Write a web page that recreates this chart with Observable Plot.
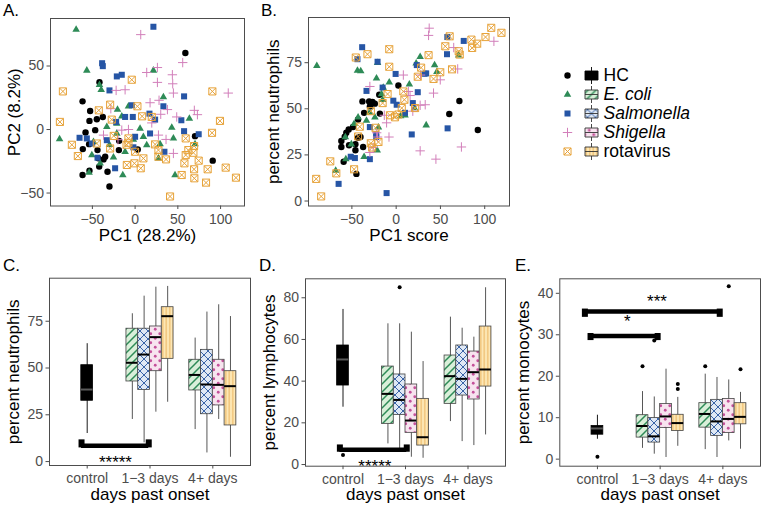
<!DOCTYPE html>
<html><head><meta charset="utf-8">
<script src="https://cdn.jsdelivr.net/npm/d3@7"></script>
<script src="https://cdn.jsdelivr.net/npm/@observablehq/plot@0.6"></script>
<style>
body{margin:0;background:#fff;}
#root{position:relative;width:765px;height:511px;background:#fff;overflow:hidden;font-family:"Liberation Sans",Arial,sans-serif;}
.tag{position:absolute;font-size:17px;line-height:17px;color:#000;z-index:2;}
</style></head><body>
<div id="root">
<svg width="0" height="0" style="position:absolute;left:0;top:0">
<defs>
 <pattern id="pEcoli" patternUnits="userSpaceOnUse" width="8" height="8">
   <rect width="8" height="8" fill="#d9efd9"/>
   <path d="M-2,2L2,-2M0,8L8,0M6,10L10,6" stroke="#2e8b57" stroke-width="1.5"/>
 </pattern>
 <pattern id="pSalm" patternUnits="userSpaceOnUse" width="8" height="8">
   <rect width="8" height="8" fill="#dfe8f4"/>
   <path d="M-2,2L2,-2M0,8L8,0M6,10L10,6M-2,6L2,10M0,0L8,8M6,-2L10,2" stroke="#3a64a8" stroke-width="1"/>
 </pattern>
 <pattern id="pShig" patternUnits="userSpaceOnUse" width="9" height="9">
   <rect width="9" height="9" fill="#f7e4ef"/>
   <circle cx="2.25" cy="2.25" r="1.4" fill="#c4509a"/><circle cx="6.75" cy="6.75" r="1.4" fill="#c4509a"/>
 </pattern>
 <pattern id="pRota" patternUnits="userSpaceOnUse" width="3.5" height="8">
   <rect width="3.5" height="8" fill="#fde7b5"/>
   <path d="M1.75,0V8" stroke="#e3a23e" stroke-width="0.8"/>
 </pattern>
</defs></svg>
<div class="tag" style="left:3px;top:2px">A.</div>
<div class="tag" style="left:261px;top:2px">B.</div>
<div class="tag" style="left:3px;top:257px">C.</div>
<div class="tag" style="left:259px;top:257px">D.</div>
<div class="tag" style="left:515px;top:257px">E.</div>
</div>
<script>
// ---------------- data ----------------
const groups = ["HC", "E. coli", "Salmonella", "Shigella", "rotavirus"];
const days = ["control", "1−3 days", "4+ days"];

// Panel A: [PC1, PC2]
const hcA = [[58.8,60.3],[-41.7,37.3],[-61.5,22.2],[-52.6,14.6],[-53.4,6.8],[-44.8,8.1],[-37.8,9.9],[-58,-2.3],[-46.7,-0.5],[-61.2,-15.4],[-53.8,-11.5],[-44,-16.2],[-35,-21.4],[-37,-23.5],[-18.7,-8.9],[-19,-16.2],[3.1,-15.7],[-42,-29.2],[-53.4,-32.4],[-61.5,-35.8],[-32.3,-33.2],[-30,-44.9],[70.1,-5.2],[90.8,-24.5],[-42.9,-22.7]];
const ecoliA = [[-69,78.6],[-56.5,46.5],[-41.7,35.2],[-39.7,31.3],[21.4,46.5],[33.1,25.6],[-20.6,15.7],[-7.8,18.3],[-15.6,10.4],[-33.1,2.1],[-21.4,4.7],[-21.4,-3.1],[5.8,0.8],[9.7,-5.7],[13.6,-12.3],[42.9,1.6],[44.8,-7],[63.5,8.6],[70.1,-11.5],[-88.4,-7.6],[-50.6,-20.1],[-40.9,-26.6],[-53.8,-33.9],[-25.3,-21.9],[-14.4,-35.8],[27.3,-22.7],[46.7,-35.8],[29.2,-11.5],[-11.7,-17.5],[-48.7,-9.7],[-30,-12],[-2,-8]];
const salmA = [[21.4,80.9],[-38.6,52.2],[-37.8,49.9],[-21.4,41.8],[-15.6,43.1],[-30,30.8],[-3.9,19.1],[-11.7,9.9],[-2.7,9.9],[16.8,12.5],[23.4,7.8],[33.1,18.3],[57.3,26.1],[54.1,7.3],[57.3,-1.3],[74.4,-3.7],[17.5,-3.1],[0,-5.7],[-22.2,6],[-65,-6.5],[-56.5,-7],[-50.6,-11],[-44,-22.2],[-23.4,-30.5],[34.3,-17.5],[-33.1,-8.4],[-2,-14]];
const shigA = [[6.6,74.7],[55.7,52.7],[26.1,48.8],[13.6,44.9],[43.6,43.1],[44,36],[26.1,37.1],[17.5,21.1],[28,23],[37.8,15.7],[44.8,28.7],[69.3,15.1],[72.9,11.7],[-22.2,30.8],[-11.7,31.3],[-28.4,16.4],[-15.6,-0.5],[-7.8,0],[-37,-4.4],[19.5,5.2],[27.3,-4.4],[48.7,9.9],[36.2,-7.8],[44.8,-18.8],[109,28.7],[-20,-8],[30,12]];
const rotaA = [[-84.5,30],[-88,6],[-74,-12],[-67,-20.9],[-42.5,15.1],[-29.2,19.6],[-3.9,39.2],[2.7,18.3],[8.2,10.4],[19.5,9.9],[-27.3,7.8],[-7.8,-7],[-7.8,-10.4],[-29.2,-14.9],[-44.8,-11],[0,-17.5],[-0.8,-26.6],[-9.7,-27.9],[9.7,-22.7],[6.6,-30.5],[27.3,-16.2],[27.3,-21.4],[36.2,-23.5],[23.4,-11.7],[40.9,-52.7],[59.2,-7],[69,-13],[62.3,-16.2],[68.2,-18.3],[59.2,-20.1],[57.7,-26.6],[74.4,-24.5],[69,-31.3],[69.3,-38.4],[83,-41.8],[84.9,-31.3],[90.4,30],[99.3,6.8],[90,-2.6],[106,-30],[118,-37.9],[54.5,-35.8],[-25,-5],[-10,-12]];

// Panel B: [PC1 score, percent neutrophils]
const hcB = [[2.5,62.6],[-19.1,57.6],[-38.1,54],[-30.5,54],[-26.7,53.7],[-24.1,52.8],[-29.7,51.3],[-36.2,47.8],[-18.4,47.4],[-43,44.2],[-48.7,40.1],[-53.6,38.8],[-56.3,37],[-58.1,34.9],[-61.9,32.6],[-61.9,29.3],[-53.2,30.2],[-46,30.8],[-43,34.3],[-40.3,34.7],[-37.3,29.3],[-46,27.5],[-59.3,21.3],[-44.9,14.7],[60,47.2],[71.4,54.2],[92.2,38.5]];
const ecoliB = [[-89.6,73.3],[-43.7,70.7],[-40,70.5],[-21,74.9],[-22.2,66.5],[-14.6,61.5],[-7.8,64.4],[-16.5,58],[-15.3,54.9],[-43,45.4],[-33.5,43.6],[-24,45.4],[-47.5,41.9],[-57.4,34.7],[-50.6,30.8],[-36.2,24],[-56.8,22.7],[-68.3,16.5],[-21.4,27.5],[14.9,63.3],[27.1,78.2],[22.6,74.6],[43.4,73.7],[46,70.1],[70.6,79],[10,46.5],[20.6,50.4],[33.9,41.1],[-30,48],[5,46],[-20,40]];
const salmB = [[-38.4,83.4],[-43.7,76.9],[-21,75.5],[-0.6,68.9],[23.3,73.7],[33.9,69.2],[-33.5,59.7],[-15.3,61.5],[-3.2,54.4],[0.6,52.2],[24.4,59],[18.8,53.1],[10,47.8],[-29.7,40.1],[-22.5,36.1],[-22.5,34.7],[-51.3,24],[-46.6,23.3],[-29.7,22.7],[-65,9.3],[-10.8,4.3],[58.1,39.4],[17.6,36.1],[76.3,86.8],[57.8,88.9],[57.4,79.6],[32,69]];
const shigB = [[37.3,93.7],[36.6,89.8],[110.4,86.6],[65,83.2],[69.5,71.6],[49.8,65.7],[42.2,58.5],[27.5,68.3],[8.1,68.3],[13.8,59.4],[15.7,57.2],[27.1,51.9],[32.8,52.2],[18.8,48.7],[-29.7,62.1],[-13.4,46.5],[-10.8,42.4],[-21,34.7],[-8.1,34.7],[-26,29],[-29.7,26.3],[27.1,27.2],[44.9,22.7],[73.7,29.3],[-22,37]];
const rotaB = [[-90.3,12],[-84.7,2.5],[-74.4,21.5],[-67.6,15],[-47.5,17.2],[-45.6,77.8],[-32.4,79.6],[-7.8,82.3],[-7.8,72.8],[-9.7,58],[-15.3,53.1],[-28.6,48.7],[-41.1,40.3],[-23.3,39.7],[-28.6,31.3],[-27.1,29],[-7,46.5],[-1.3,45.4],[2.5,46.9],[6.3,50.4],[9.3,54.9],[8.1,59.4],[21.4,50.4],[28.2,72.3],[36.6,79.1],[24.4,67.4],[42.2,66.2],[49.8,69.8],[63.1,71.4],[55.5,83.9],[60.4,89.3],[70.6,81.2],[71.8,79.4],[85,87.5],[91.5,85.3],[85.8,83],[100.9,88.9],[107.4,93.9],[118.9,91.2],[-43,35],[-20,32]];

// Box summaries: [group, day, lower whisker, q1, median, q3, upper whisker]
const neutStats = [
 ["HC","control",15,32.5,38.5,51.5,63],
 ["E. coli","1−3 days",22.5,42.8,52.8,71,79],
 ["Salmonella","1−3 days",10,38.3,57.2,71,88.4],
 ["Shigella","1−3 days",26.4,48.3,66.5,72.2,93.2],
 ["rotavirus","1−3 days",31.7,54.9,77.7,82.5,93.6],
 ["E. coli","4+ days",17.1,38,46.3,54.4,66],
 ["Salmonella","4+ days",4.6,25.3,41.2,59.7,79.9],
 ["Shigella","4+ days",22.5,30,41,54.4,83.8],
 ["rotavirus","4+ days",2.3,19.3,40.3,48.3,77.5]
];
const neutOut = [];
const lympStats = [
 ["HC","control",27.5,37.9,50.4,57.1,74.4],
 ["E. coli","1−3 days",9.9,19.5,33.9,47,67.5],
 ["Salmonella","1−3 days",7,23.8,31,43.2,67.5],
 ["Shigella","1−3 days",3.5,15.2,21.1,38.4,63.5],
 ["rotavirus","1−3 days",3,9.1,13.1,31.5,49.4],
 ["E. coli","4+ days",20.6,29.1,42.4,52.3,70.7],
 ["Salmonella","4+ days",11,33.1,41.1,57.1,65.4],
 ["Shigella","4+ days",9.1,31.2,44.3,54.2,61.1],
 ["rotavirus","4+ days",14.2,37.4,45.6,66.2,84.8]
];
const lympOut = [["HC","control",4.6],["Salmonella","1−3 days",85.1]];
const monoStats = [
 ["HC","control",4.8,5.9,7.4,8,10.6],
 ["E. coli","1−3 days",2.6,5.2,8,10.6,16.3],
 ["Salmonella","1−3 days",1.2,4,5.5,9.9,15],
 ["Shigella","1−3 days",0.4,7.5,10.3,13.3,21.7],
 ["rotavirus","1−3 days",3.1,6.8,8.7,10.7,14.9],
 ["E. coli","4+ days",2.3,7.6,10.9,13.5,20.5],
 ["Salmonella","4+ days",0.4,5.6,9.1,14.3,19.7],
 ["Shigella","4+ days",4.4,6.3,9.7,14.5,19.1],
 ["rotavirus","4+ days",2.4,8.4,10.2,13.5,16.1]
];
const monoOut = [["HC","control",0.6],["E. coli","1−3 days",22.4],["Salmonella","1−3 days",28.6],["rotavirus","1−3 days",18.1],["rotavirus","1−3 days",16.9],["E. coli","4+ days",22.4],["Shigella","4+ days",41.7],["rotavirus","4+ days",21.7]];

// significance brackets
const sigC = [{x1:0.91, x2:1.98, y:8.4, cap:[7.3,11.6], label:"*****", lx:1.45, ly:-3.7}];
const sigD = [{x1:0.95, x2:2.02, y:7.1, cap:[5.9,9.4], label:"*****", lx:1.51, ly:-3.8}];
const sigE = [
 {x1:0.8, x2:2.95, y:35.6, cap:[34.2,36.2], label:"***", lx:1.95, ly:36.7},
 {x1:0.89, x2:1.96, y:29.7, cap:[28.6,30.3], label:"*", lx:1.475, ly:31.8}
];

// ---------------- styles ----------------
const root = document.getElementById("root");
const FONT = "Liberation Sans, Arial, Helvetica, sans-serif";
const baseStyle = {fontFamily: FONT, fontSize: "14px", color: "#4d4d4d", background: "transparent", overflow: "visible"};

const plusSym = {draw(ctx, size) { const r = Math.sqrt(size / Math.PI); ctx.moveTo(-r, 0); ctx.lineTo(r, 0); ctx.moveTo(0, -r); ctx.lineTo(0, r); }};
const sqCross = {draw(ctx, size) { const s = Math.sqrt(size) / 2; ctx.moveTo(-s,-s); ctx.lineTo(s,-s); ctx.lineTo(s,s); ctx.lineTo(-s,s); ctx.closePath(); ctx.moveTo(-s,-s); ctx.lineTo(s,s); ctx.moveTo(s,-s); ctx.lineTo(-s,s); }};
const boxKey = {draw(ctx) { ctx.moveTo(0,-8.5); ctx.lineTo(0,-4.5); ctx.moveTo(-6.5,-4.5); ctx.lineTo(6.5,-4.5); ctx.lineTo(6.5,4.5); ctx.lineTo(-6.5,4.5); ctx.closePath(); ctx.moveTo(-6.5,0); ctx.lineTo(6.5,0); ctx.moveTo(0,4.5); ctx.lineTo(0,8.5); }};

const pointStyle = {
  "HC": {symbol: "circle", r: 3.2, fill: "#000", stroke: "none"},
  "E. coli": {symbol: "triangle", r: 2.8, fill: "#2e8b57", stroke: "none"},
  "Salmonella": {symbol: "square", r: 3.4, fill: "#2655a5", stroke: "none"},
  "Shigella": {symbol: plusSym, r: 4.7, fill: "none", stroke: "#d27fba", strokeWidth: 1},
  "rotavirus": {symbol: sqCross, r: 4, fill: "none", stroke: "#e7a33a", strokeWidth: 1}
};
const boxStyle = {
  "HC": {fill: "#000", line: "#000", median: "#5a5a5a"},
  "E. coli": {fill: "url(#pEcoli)", line: "#444", median: "#000"},
  "Salmonella": {fill: "url(#pSalm)", line: "#444", median: "#000"},
  "Shigella": {fill: "url(#pShig)", line: "#444", median: "#000"},
  "rotavirus": {fill: "url(#pRota)", line: "#444", median: "#000"}
};

function place(el, left, top) {
  el.style.position = "absolute"; el.style.left = left + "px"; el.style.top = top + "px";
  root.appendChild(el);
}

function axisMarks({xTicks, xFormat, yTicks, xTitle, yTitle, titleDy, titleDx}) {
  return [
    Plot.frame({stroke: "#4d4d4d", strokeWidth: 1}),
    Plot.axisX({ticks: xTicks, tickFormat: xFormat, tickSize: 3.5, tickPadding: 4.5, fontSize: 14}),
    Plot.axisY({ticks: yTicks, tickFormat: d3.format("d"), tickSize: 3.5, tickPadding: 3, fontSize: 14}),
    Plot.text([xTitle], {frameAnchor: "bottom", dy: titleDy, lineAnchor: "bottom", textAnchor: "middle", fontSize: 17, fill: "#000"}),
    Plot.text([yTitle], {frameAnchor: "left", dx: titleDx, rotate: -90, textAnchor: "middle", lineAnchor: "middle", fontSize: 17, fill: "#000"})
  ];
}

function scatter(sets, opts) {
  const marks = [];
  sets.forEach(([g, data]) => {
    marks.push(Plot.dot(data, {x: d => d[0], y: d => d[1], ...pointStyle[g]}));
  });
  return Plot.plot({
    width: opts.width, height: opts.height,
    marginLeft: opts.ml, marginRight: opts.mr, marginTop: opts.mt, marginBottom: opts.mb,
    x: {domain: opts.xDomain}, y: {domain: opts.yDomain},
    style: baseStyle,
    marks: [
      ...marks,
      ...axisMarks({xTicks: opts.xTicks, xFormat: d3.format("d"), yTicks: opts.yTicks, xTitle: opts.xTitle, yTitle: opts.yTitle, titleDy: opts.titleDy, titleDx: opts.titleDx})
    ]
  });
}

const DODGE = 0.1875, HW = 0.09375;
const pos = d => days.indexOf(d[1]) + 1 + (d[0] === "HC" ? 0 : (groups.indexOf(d[0]) - 2.5) * DODGE);

function boxplot(stats, outs, sigs, opts) {
  const marks = [];
  groups.forEach(g => {
    const rows = stats.filter(d => d[0] === g);
    if (!rows.length) return;
    const s = boxStyle[g];
    marks.push(Plot.ruleX(rows, {x: pos, y1: d => d[2], y2: d => d[6], stroke: s.line, strokeWidth: 0.9}));
    marks.push(Plot.rect(rows, {x1: d => pos(d) - HW, x2: d => pos(d) + HW, y1: d => d[3], y2: d => d[5], fill: s.fill, stroke: s.line, strokeWidth: 0.8}));
    marks.push(Plot.ruleY(rows, {x1: d => pos(d) - HW, x2: d => pos(d) + HW, y: d => d[4], stroke: s.median, strokeWidth: 2}));
  });
  marks.push(Plot.dot(outs, {x: pos, y: d => d[2], r: 2, fill: "#000", stroke: "none"}));
  marks.push(Plot.ruleY(sigs, {y: d => d.y, x1: d => d.x1, x2: d => d.x2, stroke: "#000", strokeWidth: 4.5}));
  marks.push(Plot.ruleX(sigs, {x: d => d.x1, y1: d => d.cap[0], y2: d => d.cap[1], stroke: "#000", strokeWidth: 6}));
  marks.push(Plot.ruleX(sigs, {x: d => d.x2, y1: d => d.cap[0], y2: d => d.cap[1], stroke: "#000", strokeWidth: 6}));
  marks.push(Plot.text(sigs, {x: d => d.lx, y: d => d.ly, text: d => d.label, lineAnchor: "bottom", fontSize: 17, fill: "#000"}));
  return Plot.plot({
    width: 255, height: 256,
    marginLeft: opts.ml, marginRight: opts.mr, marginTop: opts.mt, marginBottom: opts.mb,
    x: {domain: [0.4, 3.6]}, y: {domain: opts.yDomain},
    style: baseStyle,
    marks: [
      ...marks,
      ...axisMarks({xTicks: [1, 2, 3], xFormat: i => days[i - 1], yTicks: opts.yTicks, xTitle: "days past onset", yTitle: opts.yTitle, titleDy: 34, titleDx: -36})
    ]
  });
}

// ---------------- panels ----------------
place(scatter([["HC", hcA], ["E. coli", ecoliA], ["Salmonella", salmA], ["Shigella", shigA], ["rotavirus", rotaA]], {
  width: 255, height: 250, ml: 50, mr: 11, mt: 18, mb: 44.5,
  xDomain: [-99, 128], yDomain: [-60.2, 87.4], xTicks: [-50, 0, 50, 100], yTicks: [-50, 0, 50],
  xTitle: "PC1 (28.2%)", yTitle: "PC2 (8.2%)", titleDy: 35, titleDx: -36
}), 0, 0);

place(scatter([["HC", hcB], ["E. coli", ecoliB], ["Salmonella", salmB], ["Shigella", shigB], ["rotavirus", rotaB]], {
  width: 260, height: 250, ml: 53, mr: 6, mt: 17, mb: 44.5,
  xDomain: [-99, 128], yDomain: [-2.7, 99.5], xTicks: [-50, 0, 50, 100], yTicks: [0, 25, 50, 75],
  xTitle: "PC1 score", yTitle: "percent neutrophils", titleDy: 35, titleDx: -35
}), 255, 0);

place(boxplot(neutStats, neutOut, sigC, {ml: 49, mr: 5, mt: 22.7, mb: 46, yDomain: [-2.1, 98], yTicks: [0, 25, 50, 75], yTitle: "percent neutrophils"}), 0, 255);
place(boxplot(lympStats, lympOut, sigD, {ml: 50, mr: 5, mt: 23.3, mb: 45.3, yDomain: [-0.8, 89.1], yTicks: [0, 20, 40, 60, 80], yTitle: "percent lymphocytes"}), 255, 255);
place(boxplot(monoStats, monoOut, sigE, {ml: 49.3, mr: 5, mt: 23.3, mb: 45.3, yDomain: [-1.7, 43.5], yTicks: [0, 10, 20, 30, 40], yTitle: "percent monocytes"}), 510, 255);

// ---------------- legend ----------------
const legend = Plot.plot({
  width: 235, height: 110, margin: 0,
  y: {type: "point", domain: groups, range: [14, 91.3], padding: 0, axis: null},
  style: baseStyle,
  marks: [
    ...groups.map(g => Plot.dot([g], {y: d => d, frameAnchor: "left", dx: 37, ...pointStyle[g]})),
    ...groups.map(g => Plot.dot([g], {y: d => d, frameAnchor: "left", dx: 61, symbol: boxKey, r: 5, fill: boxStyle[g].fill, stroke: g === "HC" ? "#000" : "#333", strokeWidth: 0.9})),
    Plot.text(groups.filter(g => g === "HC" || g === "rotavirus"), {y: d => d, text: d => d, frameAnchor: "left", dx: 73, textAnchor: "start", fontSize: 17.5, fill: "#000"}),
    Plot.text(groups.filter(g => g !== "HC" && g !== "rotavirus"), {y: d => d, text: d => d, frameAnchor: "left", dx: 73, textAnchor: "start", fontSize: 17.5, fontStyle: "italic", fill: "#000"})
  ]
});
place(legend, 530, 60);
</script>
</body></html>
